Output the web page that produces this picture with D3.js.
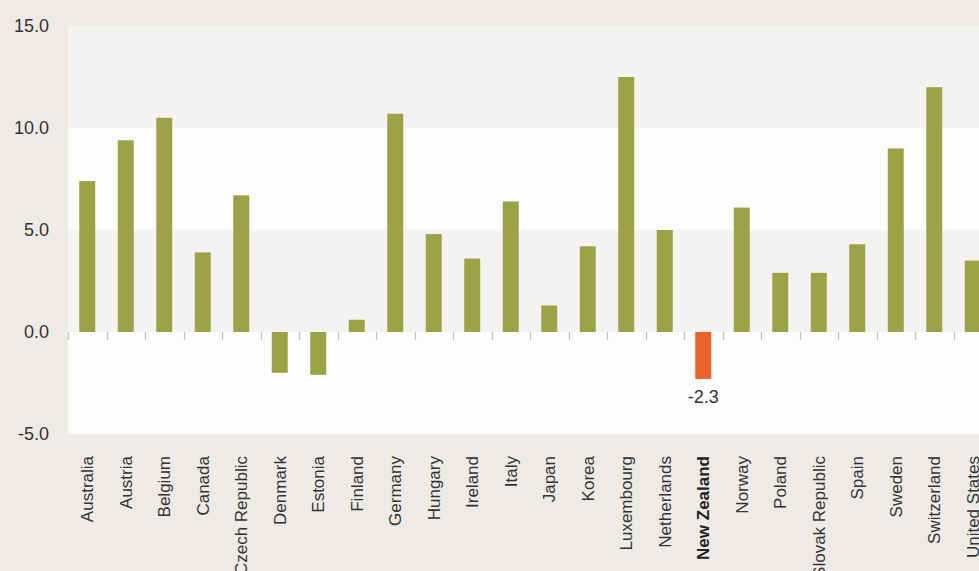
<!DOCTYPE html>
<html><head><meta charset="utf-8">
<script src="https://cdn.jsdelivr.net/npm/d3@7"></script>
<style>body{margin:0;background:#eeebe6;overflow:hidden}svg{display:block}</style>
</head><body>
<svg id="c" width="979" height="571"></svg>
<script>
const countries = ["Australia","Austria","Belgium","Canada","Czech Republic","Denmark","Estonia","Finland","Germany","Hungary","Ireland","Italy","Japan","Korea","Luxembourg","Netherlands","New Zealand","Norway","Poland","Slovak Republic","Spain","Sweden","Switzerland","United States"];
const values = [7.4,9.4,10.5,3.9,6.7,-2.0,-2.1,0.6,10.7,4.8,3.6,6.4,1.3,4.2,12.5,5.0,-2.3,6.1,2.9,2.9,4.3,9.0,12.0,3.5];
const yTicks = [-5,0,5,10,15];
const highlight = "New Zealand";

(function(){
const svg = d3.select("#c");
const W = 979, H = 571;
const mLeft = 68, mTop = 26, mBottom = 434, plotRight = 992;
svg.append("rect").attr("width",W).attr("height",H).attr("fill","#eeebe6");

const x = d3.scaleBand().domain(countries).range([mLeft, plotRight]).paddingInner(0.585).paddingOuter(0.2925);
const xb = d3.scaleBand().domain(countries).range([mLeft, plotRight]);
const y = d3.scaleLinear().domain([-5,15]).range([mBottom, mTop]);

// bands
const bandCols = ["#fcfcfc","#f4f3f1","#fcfcfc","#f4f3f1"];
for (let i=0;i<yTicks.length-1;i++){
  svg.append("rect").attr("x",mLeft).attr("width",plotRight-mLeft)
    .attr("y",y(yTicks[i+1])).attr("height",y(yTicks[i])-y(yTicks[i+1]))
    .attr("fill",bandCols[i]);
}

// zero-line ticks at category boundaries
svg.append("g").selectAll("line").data(countries).join("line")
  .attr("x1",d=>Math.round(xb(d))+0.5).attr("x2",d=>Math.round(xb(d))+0.5)
  .attr("y1",y(0)).attr("y2",y(0)+8)
  .attr("stroke","#bdbdbd").attr("stroke-width",1.2);

// bars
svg.append("g").selectAll("rect").data(countries).join("rect")
  .attr("x",d=>x(d)).attr("width",x.bandwidth())
  .attr("y",(d,i)=>y(Math.max(0,values[i])))
  .attr("height",(d,i)=>Math.abs(y(values[i])-y(0)))
  .attr("fill",d=>d===highlight?"#e8622b":"#9ca347");

// value label for highlight
const hi = countries.indexOf(highlight);
svg.append("text").attr("x",x(highlight)+x.bandwidth()/2).attr("y",y(values[hi])+24)
  .attr("text-anchor","middle").attr("font-family","Liberation Sans, Arial, sans-serif")
  .attr("font-size",18).attr("fill","#333").text(values[hi].toFixed(1));

// y axis labels
svg.append("g").selectAll("text").data(yTicks).join("text")
  .attr("x",49).attr("y",d=>y(d)).attr("dy","0.35em")
  .attr("text-anchor","end").attr("font-family","Liberation Sans, Arial, sans-serif")
  .attr("font-size",18).attr("fill","#333").text(d=>d.toFixed(1));

// x labels
svg.append("g").selectAll("text").data(countries).join("text")
  .attr("transform",d=>`translate(${x(d)+x.bandwidth()/2},456) rotate(-90)`)
  .attr("dy","0.35em").attr("text-anchor","end")
  .attr("font-family","Liberation Sans, Arial, sans-serif").attr("font-size",17)
  .attr("font-weight",d=>d===highlight?"bold":"normal")
  .attr("fill",d=>d===highlight?"#222":"#333").text(d=>d);
})();
</script>
</body></html>
